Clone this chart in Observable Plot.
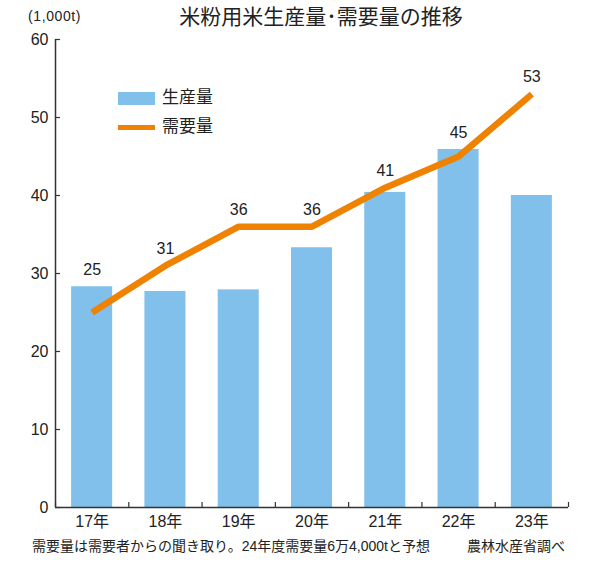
<!DOCTYPE html>
<html><head><meta charset="utf-8">
<script src="https://cdn.jsdelivr.net/npm/d3@7"></script>
<script src="https://cdn.jsdelivr.net/npm/@observablehq/plot@0.6"></script>
<style>
body{margin:0;background:#fff;font-family:"Liberation Sans","Noto Sans CJK JP",sans-serif;color:#222;}
#wrap{position:relative;width:600px;height:562px;overflow:hidden;}
.abs{position:absolute;white-space:nowrap;}
#chart svg text{font-size:16px;}
</style></head>
<body>
<div id="wrap">
  <div class="abs" id="title" style="left:0;width:642px;top:5px;text-align:center;font-size:21px;line-height:24px;"></div>
  <div class="abs" id="unit" style="left:28px;top:8px;font-size:14px;line-height:16px;letter-spacing:0.6px;"></div>
  <div class="abs" id="chart" style="left:0;top:30px;"></div>
  <div class="abs" id="legend" style="left:118px;top:86px;font-size:17px;line-height:24px;"></div>
  <div class="abs" id="note" style="left:32px;top:537px;font-size:14px;line-height:18px;"></div>
  <div class="abs" id="source" style="right:35px;top:537px;font-size:14px;line-height:18px;"></div>
</div>
<script>
const titleText = "米粉用米生産量･需要量の推移";
const unitText = "(1,000t)";
const years = ["17年","18年","19年","20年","21年","22年","23年"];
const production = [28.3, 27.7, 27.9, 33.3, 40.4, 45.9, 40.0];
const demand = [25, 31, 36, 36, 41, 45, 53];
const yTicks = [0, 10, 20, 30, 40, 50, 60];
const seriesNames = ["生産量", "需要量"];
const noteText = "需要量は需要者からの聞き取り。24年度需要量6万4,000tと予想";
const sourceText = "農林水産省調べ";

const barColor = "#80c0ea";
const lineColor = "#ef8200";
const axisColor = "#333";

const data = years.map((y, i) => ({i, year: y, prod: production[i], demand: demand[i]}));
const xDomain = [-0.5, years.length - 0.5];
const xBounds = d3.range(years.length + 1).map(k => k - 0.5);

document.getElementById("title").textContent = titleText;
document.getElementById("unit").textContent = unitText;
document.getElementById("note").textContent = noteText;
document.getElementById("source").textContent = sourceText;
document.getElementById("legend").innerHTML =
  `<div style="display:flex;align-items:center;height:24px"><span style="display:inline-block;width:37px;height:13px;background:${barColor};margin-right:7px"></span>${seriesNames[0]}</div>` +
  `<div style="display:flex;align-items:center;height:24px;margin-top:5px"><span style="display:inline-block;width:37px;height:5px;background:${lineColor};margin-right:7px"></span>${seriesNames[1]}</div>`;

const W = 600, H = 502, mT = 9, mB = 25, mL = 55, mR = 32;
const plotH = H - mT - mB, plotW = W - mL - mR;

const chart = Plot.plot({
  width: W, height: H,
  marginTop: mT, marginBottom: mB, marginLeft: mL, marginRight: mR,
  style: {fontFamily: '"Liberation Sans","Noto Sans CJK JP",sans-serif', fontSize: "16px", color: "#222", background: "#fff"},
  x: {type: "linear", domain: xDomain},
  y: {domain: [0, 60]},
  marks: [
    Plot.rectY(data, {x1: d => d.i - 0.28, x2: d => d.i + 0.28, y: "prod", fill: barColor}),
    Plot.line(data, {x: "i", y: "demand", stroke: lineColor, strokeWidth: 6.5, strokeLinejoin: "miter", strokeLinecap: "butt"}),
    Plot.text(data, {x: "i", y: d => Math.max(d.demand, d.prod), text: d => String(d.demand), dy: -17, fontSize: 16, fill: "#222"}),
    Plot.ruleX([xDomain[0]], {y1: 0, y2: 60, stroke: axisColor, strokeWidth: 1.5}),
    Plot.ruleY([0], {x1: xDomain[0], x2: xDomain[1], stroke: axisColor, strokeWidth: 1.5}),
    Plot.ruleY(yTicks, {y: d => d, insetRight: plotW - 5, stroke: axisColor, strokeWidth: 1.2}),
    Plot.ruleX(xBounds, {x: d => d, insetTop: plotH - 5, stroke: axisColor, strokeWidth: 1.2}),
    Plot.axisY({ticks: yTicks, tickSize: 0, tickPadding: 7, fontSize: 16, label: null}),
    Plot.axisX({ticks: d3.range(years.length), tickFormat: i => years[i], tickSize: 0, tickPadding: 8, fontSize: 16, label: null})
  ]
});
document.getElementById("chart").appendChild(chart);
</script>
</body></html>
